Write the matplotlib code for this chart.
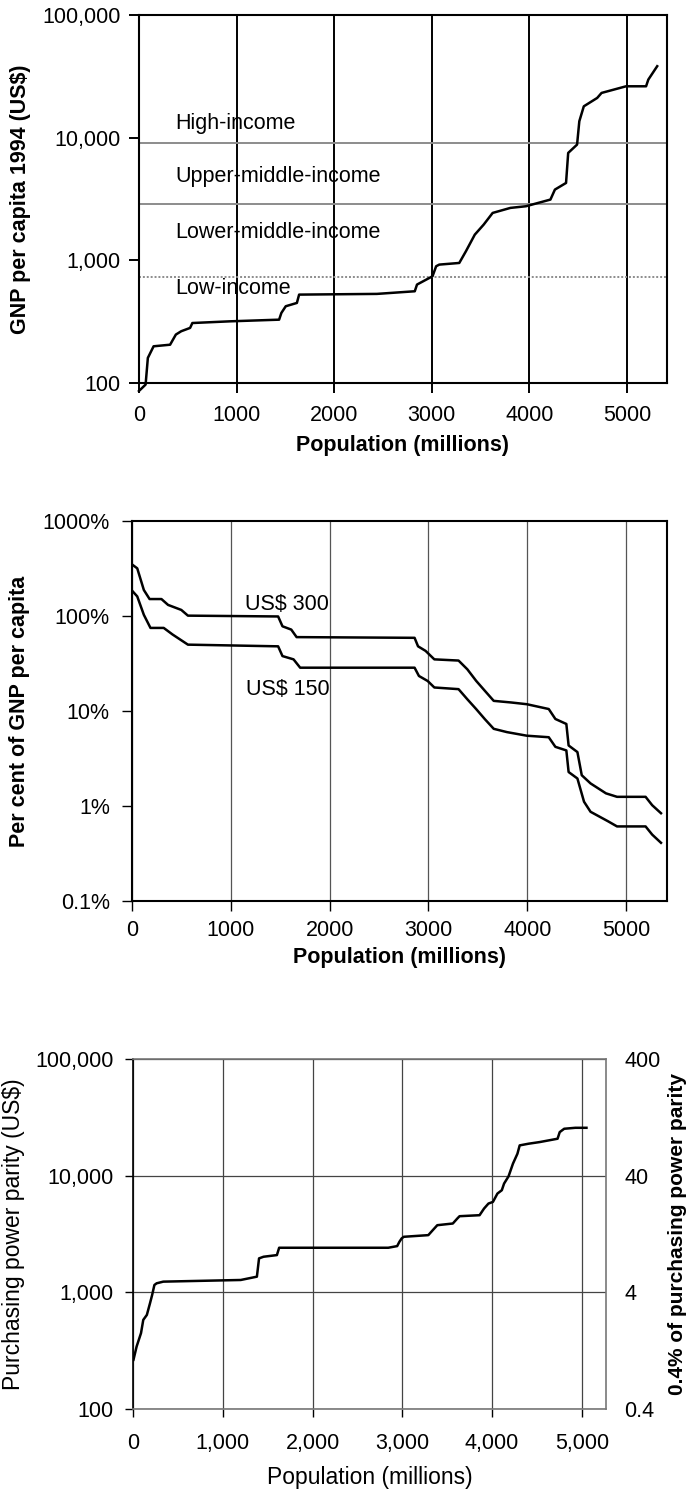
import matplotlib
matplotlib.use('Agg')
import matplotlib.pyplot as plt
from matplotlib.ticker import FixedLocator, FixedFormatter, NullLocator

plt.rcParams['font.family'] = ['Liberation Sans', 'DejaVu Sans']

# ── Data ────────────────────────────────────────────────────────────────────
# Panel 1: GNP per capita 1994 vs cumulative population
gnp_pop = [0, 68, 91, 150, 319, 378, 433, 524, 547, 934, 1436, 1459, 1504,
           1618, 1641, 2438, 2826, 2849, 3008, 3045, 3077, 3282, 3350, 3441,
           3532, 3624, 3806, 3965, 4216, 4262, 4376, 4398, 4489, 4512, 4558,
           4695, 4740, 4991, 5196, 5219, 5310]
gnp_val = [86, 97, 160, 199, 205, 248, 264, 281, 308, 318, 328, 372, 422,
           449, 525, 532, 559, 634, 741, 894, 922, 951, 1184, 1618,
           1953, 2432, 2673, 2757, 3125, 3769, 4270, 7500, 8770, 13590, 17990,
           21050, 23130, 26200, 26200, 29700, 38200]
income_bounds = [8955, 2895, 725]
income_labels = ['High-income', 'Upper-middle-income', 'Lower-middle-income', 'Low-income']
income_label_y = [12950, 4790, 1700, 585]

# Panel 2: cost as per cent of GNP per capita
pct_pop = [9, 53, 120, 178, 298, 365, 499, 566, 1479, 1523, 1612, 1666, 2860,
           2895, 2971, 3060, 3305, 3394, 3483, 3572, 3661, 3840, 3996, 4218,
           4285, 4396, 4419, 4508, 4552, 4641, 4797, 4909, 5198, 5265, 5354]
pct_300 = [344, 318, 188, 151, 151, 131, 116, 101, 99, 78, 72, 60, 59,
           48, 43, 35, 34, 27.5, 20.8, 16.3, 12.8, 12.3, 11.8, 10.5,
           8.25, 7.31, 4.34, 3.70, 2.11, 1.73, 1.36, 1.25, 1.25, 1.02, 0.84]
pct150_pop = [9, 53, 120, 187, 321, 410, 566, 1479, 1523, 1635, 1702, 2860,
              2904, 2993, 3060, 3305, 3394, 3483, 3572, 3661, 3795, 3996,
              4218, 4285, 4396, 4419, 4508, 4575, 4641, 4819, 4909, 5198,
              5265, 5354]
pct_150 = [181, 161, 103, 75, 75, 64, 50, 48, 37.9, 35, 28.6, 28.6,
           23.4, 20.7, 17.7, 17.0, 13.3, 10.5, 8.2, 6.5, 6.0, 5.5,
           5.3, 4.2, 3.85, 2.28, 1.95, 1.11, 0.87, 0.69, 0.61, 0.61,
           0.50, 0.41]

# Panel 3: purchasing power parity
ppp_pop = [5, 40, 89, 114, 154, 189, 213, 238, 263, 337, 1200, 1380, 1404,
           1454, 1603, 1628, 2844, 2943, 2968, 2993, 3017, 3290, 3340, 3390,
           3563, 3613, 3638, 3861, 3911, 3960, 4010, 4060, 4109, 4134, 4184,
           4233, 4283, 4308, 4407, 4531, 4730, 4754, 4804, 4928, 5052]
ppp_val = [264, 343, 447, 580, 640, 805, 949, 1155, 1194, 1234, 1275, 1361, 1953,
           2017, 2084, 2409, 2409, 2489, 2711, 2896, 2991, 3090, 3411, 3760,
           3887, 4290, 4490, 4580, 5223, 5763, 5955, 7020, 7500, 8550, 9870,
           12670, 15420, 18170, 18780, 19400, 20720, 23610, 25230, 25710, 25710]

pop_ticks = [0, 1000, 2000, 3000, 4000, 5000]
gnp_ticks = [100, 1000, 10000, 100000]
gnp_ticklabels = ['100', '1,000', '10,000', '100,000']
pct_ticks = [0.1, 1, 10, 100, 1000]
pct_ticklabels = ['0.1%', '1%', '10%', '100%', '1000%']
ppp_right_ticks = [0.4, 4, 40, 400]
ppp_right_labels = ['0.4', '4', '40', '400']

FS = 15.5

fig = plt.figure(figsize=(6.9, 14.93), dpi=100)
fig.patch.set_facecolor('white')


def set_log_ticks(ax, ticks, labels):
    ax.yaxis.set_major_locator(FixedLocator(ticks))
    ax.yaxis.set_major_formatter(FixedFormatter(labels))
    ax.yaxis.set_minor_locator(NullLocator())


# ── Panel 1 ────────────────────────────────────────────────────────────────
ax1 = fig.add_axes([0.2014, 0.7435, 0.7652, 0.2465])
ax1.set_yscale('log')
ax1.set_xlim(0, 5410)
ax1.set_ylim(100, 100000)
ax1.plot(gnp_pop, gnp_val, color='black', lw=1.8, clip_on=False, zorder=4)
for v, ls in zip(income_bounds, ['-', '-', (0, (1, 1))]):
    ax1.axhline(v, color='#8c8c8c', lw=1.4, ls=ls, zorder=2)
for t, yv in zip(income_labels, income_label_y):
    ax1.text(370, yv, t, fontsize=FS, ha='left', va='center', zorder=5)
ax1.xaxis.set_major_locator(FixedLocator(pop_ticks))
ax1.set_xticklabels([str(p) for p in pop_ticks])
set_log_ticks(ax1, gnp_ticks, gnp_ticklabels)
ax1.grid(axis='x', color='black', lw=1.4, zorder=1)
for s in ax1.spines.values():
    s.set_linewidth(1.5)
ax1.tick_params(axis='both', direction='out', length=7, width=1.4, labelsize=FS)
ax1.tick_params(axis='x', pad=9)
ax1.tick_params(axis='y', pad=6)
ax1.set_xlabel('Population (millions)', fontsize=FS, fontweight='bold', labelpad=6)
ax1.set_ylabel('GNP per capita 1994 (US$)', fontsize=FS, fontweight='bold')
ax1.yaxis.set_label_coords(-0.205, 0.5)

# ── Panel 2 ────────────────────────────────────────────────────────────────
ax2 = fig.add_axes([0.1913, 0.3965, 0.7754, 0.2545])
ax2.set_yscale('log')
ax2.set_xlim(0, 5415)
ax2.set_ylim(0.1, 1000)
ax2.plot(pct_pop, pct_300, color='black', lw=1.8, zorder=4)
ax2.plot(pct150_pop, pct_150, color='black', lw=1.8, zorder=4)
ax2.text(1145, 131, 'US$ 300', fontsize=FS, ha='left', va='center')
ax2.text(1158, 17, 'US$ 150', fontsize=FS, ha='left', va='center')
ax2.xaxis.set_major_locator(FixedLocator(pop_ticks))
ax2.set_xticklabels([str(p) for p in pop_ticks])
set_log_ticks(ax2, pct_ticks, pct_ticklabels)
ax2.grid(axis='x', color='#555555', lw=0.9, zorder=1)
for s in ax2.spines.values():
    s.set_linewidth(1.5)
ax2.tick_params(axis='both', direction='out', length=7, width=1.0, labelsize=FS)
ax2.tick_params(axis='x', pad=7)
ax2.tick_params(axis='y', pad=9)
ax2.set_xlabel('Population (millions)', fontsize=FS, fontweight='bold', labelpad=4)
ax2.set_ylabel('Per cent of GNP per capita', fontsize=FS, fontweight='bold')
ax2.yaxis.set_label_coords(-0.19, 0.5)

# ── Panel 3 ────────────────────────────────────────────────────────────────
ax3 = fig.add_axes([0.1928, 0.0563, 0.6855, 0.2344])
ax3.set_yscale('log')
ax3.set_xlim(0, 5270)
ax3.set_ylim(100, 100000)
ax3.plot(ppp_pop, ppp_val, color='black', lw=1.8, zorder=4)
ax3.xaxis.set_major_locator(FixedLocator(pop_ticks))
ax3.set_xticklabels([f'{p:,}' for p in pop_ticks])
set_log_ticks(ax3, gnp_ticks, gnp_ticklabels)
ax3.grid(axis='both', color='#444444', lw=0.9, zorder=1)
for name, s in ax3.spines.items():
    s.set_linewidth(1.2)
    s.set_color('black' if name == 'left' else '#777777')
ax3.tick_params(axis='both', direction='out', length=6, width=1.0, labelsize=FS)
ax3.tick_params(axis='x', pad=11)
ax3.tick_params(axis='y', pad=8)
ax3.set_xlabel('Population (millions)', fontsize=16.5, labelpad=9)
ax3.set_ylabel('Purchasing power parity (US$)', fontsize=16.5)
ax3.yaxis.set_label_coords(-0.228, 0.5)

ax3r = ax3.twinx()
ax3r.set_yscale('log')
ax3r.set_ylim(0.4, 400)
set_log_ticks(ax3r, ppp_right_ticks, ppp_right_labels)
ax3r.tick_params(axis='y', length=0, pad=13, labelsize=FS)
for s in ax3r.spines.values():
    s.set_visible(False)
ax3r.set_ylabel('0.4% of purchasing power parity', fontsize=15, fontweight='bold')
ax3r.yaxis.set_label_coords(1.131, 0.5)

fig.savefig('out.png', dpi=100, facecolor='white')
